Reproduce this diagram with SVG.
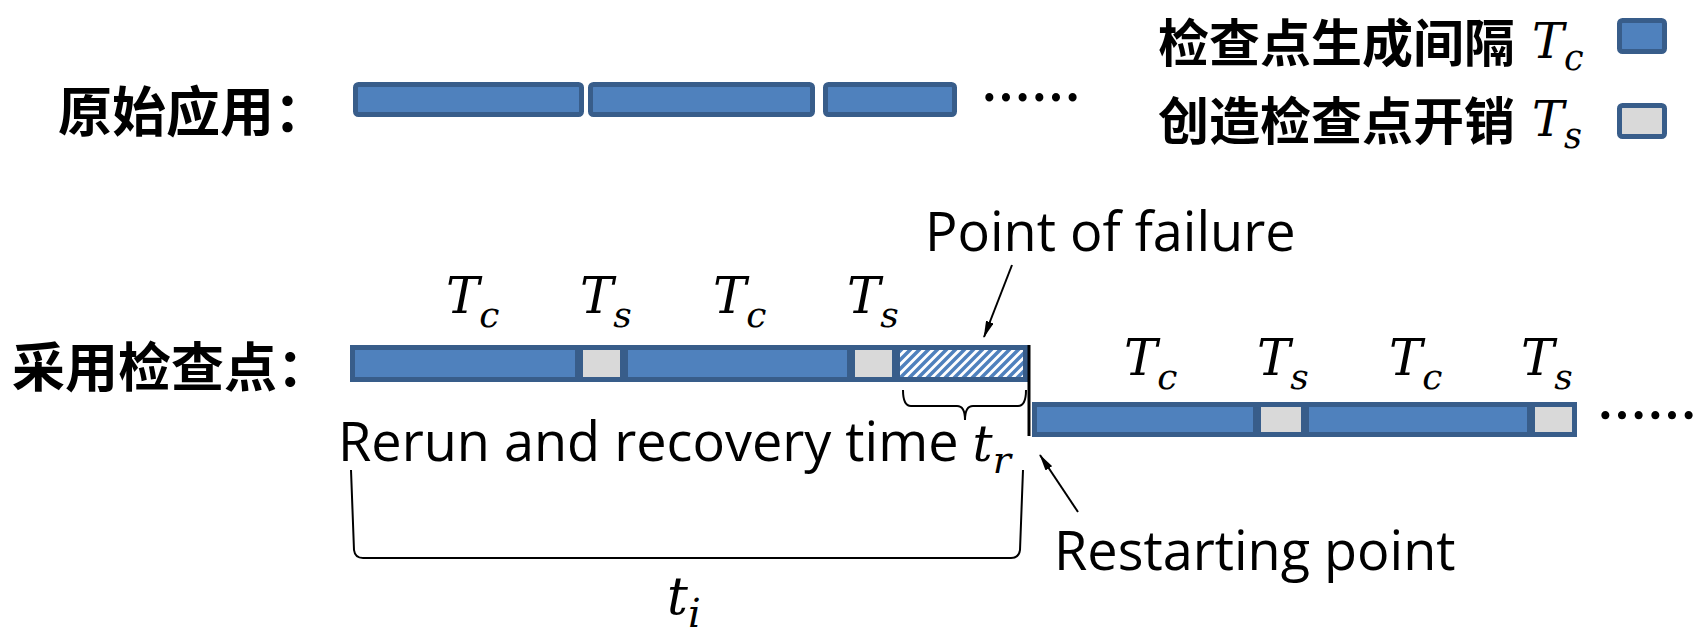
<svg xmlns="http://www.w3.org/2000/svg" width="1700" height="634" viewBox="0 0 1700 634">
<style>
.tc{fill:#4F81BD;stroke:#385D8A;stroke-width:5}
.ts{fill:#D9D9D9;stroke:#385D8A;stroke-width:5}
.hx{fill:url(#hatch);stroke:#385D8A;stroke-width:5}
.cn{font-family:"Noto Sans CJK SC",sans-serif;font-weight:bold;fill:#000}
.en{font-family:"Open Sans","Liberation Sans",sans-serif;fill:#000;font-size:54px}
.m{font-family:"DejaVu Serif","Liberation Serif",serif;font-style:italic;fill:#000}
.ln{fill:none;stroke:#000;stroke-width:2}
</style>
<defs>
<pattern id="hatch" patternUnits="userSpaceOnUse" width="9" height="9">
<rect width="9" height="9" fill="#fff"/>
<path d="M-2,11 L11,-2 M-2,2 L2,-2 M7,11 L11,7" stroke="#4F81BD" stroke-width="3.5"/>
</pattern>
<marker id="ah" markerWidth="17" markerHeight="8" refX="16" refY="4" orient="auto" markerUnits="userSpaceOnUse">
<path d="M0,0 L17,4 L0,8 Z" fill="#000"/>
</marker>
</defs>

<g id="label-original"><text class="cn" x="58" y="132" font-size="54">原始应用：</text></g>
<g id="original-bars">
<rect class="tc" x="355.5" y="84.5" width="226" height="30" rx="3"/>
<rect class="tc" x="590.5" y="84.5" width="222" height="30" rx="3"/>
<rect class="tc" x="825.5" y="84.5" width="129" height="30" rx="3"/>
<text class="cn" x="981" y="117" font-size="52" textLength="100" lengthAdjust="spacingAndGlyphs">……</text>
</g>

<g id="legend-tc">
<text class="cn" x="1158" y="62" font-size="51">检查点生成间隔</text>
<text class="m" x="1532" y="58" font-size="48">T<tspan font-size="35" dy="12">c</tspan></text>
<rect class="tc" x="1619.5" y="20.5" width="45" height="31" rx="3"/>
</g>
<g id="legend-ts">
<text class="cn" x="1158" y="140" font-size="51">创造检查点开销</text>
<text class="m" x="1532" y="136" font-size="48">T<tspan font-size="35" dy="12">s</tspan></text>
<rect class="ts" x="1619.5" y="105.5" width="45" height="31" rx="3"/>
</g>

<g id="label-checkpoint"><text class="cn" x="12" y="387" font-size="53">采用检查点：</text></g>

<g id="bar-before-failure">
<rect class="tc" x="352.5" y="347.5" width="225" height="32"/>
<rect class="ts" x="580.5" y="347.5" width="42" height="32"/>
<rect class="tc" x="625.5" y="347.5" width="224" height="32"/>
<rect class="ts" x="852.5" y="347.5" width="42" height="32"/>
<rect class="hx" x="897.5" y="347.5" width="128" height="32"/>
<text class="m" x="446" y="313" font-size="50">T<tspan font-size="36" dy="14">c</tspan></text>
<text class="m" x="580" y="313" font-size="50">T<tspan font-size="36" dy="14">s</tspan></text>
<text class="m" x="713" y="313" font-size="50">T<tspan font-size="36" dy="14">c</tspan></text>
<text class="m" x="847" y="313" font-size="50">T<tspan font-size="36" dy="14">s</tspan></text>
</g>

<g id="bar-after-restart">
<rect class="tc" x="1034.5" y="404.5" width="221" height="30"/>
<rect class="ts" x="1258.5" y="404.5" width="45" height="30"/>
<rect class="tc" x="1306.5" y="404.5" width="223" height="30"/>
<rect class="ts" x="1532.5" y="404.5" width="42" height="30"/>
<text class="m" x="1124" y="375" font-size="50">T<tspan font-size="36" dy="14">c</tspan></text>
<text class="m" x="1257" y="375" font-size="50">T<tspan font-size="36" dy="14">s</tspan></text>
<text class="m" x="1389" y="375" font-size="50">T<tspan font-size="36" dy="14">c</tspan></text>
<text class="m" x="1521" y="375" font-size="50">T<tspan font-size="36" dy="14">s</tspan></text>
</g>
<g id="trailing-dots"><text class="cn" x="1597" y="435" font-size="51" textLength="100" lengthAdjust="spacingAndGlyphs">……</text></g>

<g id="point-of-failure"><text class="en" x="925" y="251">Point of failure</text></g>
<g id="rerun-label"><text class="en" x="338" y="461">Rerun and recovery time <tspan class="m" font-size="50">t<tspan font-size="38" dy="12">r</tspan></tspan></text></g>
<g id="restarting-point"><text class="en" x="1054" y="570" font-size="56">Restarting point</text></g>
<g id="ti-label"><text class="m" x="667" y="614" font-size="52">t<tspan font-size="40" dy="13">i</tspan></text></g>

<g id="connectors">
<line x1="1029" y1="345" x2="1029" y2="436" stroke="#000" stroke-width="3"/>
<line class="ln" x1="1012" y1="265" x2="984" y2="337" stroke-width="1.5" marker-end="url(#ah)"/>
<line class="ln" x1="1078" y1="512" x2="1040" y2="455" stroke-width="1.5" marker-end="url(#ah)"/>
<path class="ln" d="M903,390 Q903,406 911,406 H957 Q965,406 965,420 Q965,406 973,406 H1018 Q1026,406 1026,390"/>
<path class="ln" d="M351,470 L354,550 Q355,558 363,558 H1011 Q1019,558 1020,550 L1023,470"/>
</g>
</svg>
